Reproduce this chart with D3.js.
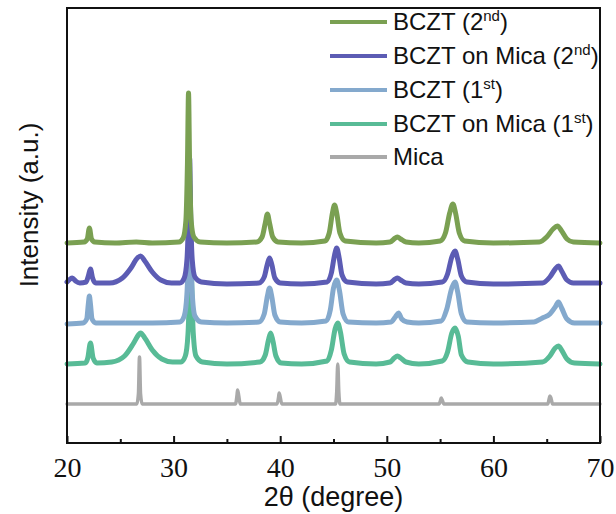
<!DOCTYPE html>
<html>
<head>
<meta charset="utf-8">
<script src="https://cdn.jsdelivr.net/npm/d3@7"></script>
<style>
  body { margin: 0; background: #fff; }
  svg { display: block; }
</style>
</head>
<body>
<script>
// Størrelse på SVG
const w = 616;
const h = 514;

// Plot-område (ramme)
const plotLeft = 67, plotRight = 600, plotTop = 8, plotBottom = 443;

// Serienavne og farver
const seriesNames = ["BCZT (2nd)", "BCZT on Mica (2nd)", "BCZT (1st)", "BCZT on Mica (1st)", "Mica"];
const seriesColors = ["#7aa052", "#5c5cb4", "#84a9cd", "#58bb96", "#a9a9a9"];

// Forskydning af hver kurve (a.u.)
const offsets = [200, 159, 119, 79, 39];

// Aflæste punkter [2theta, intensitet] for hver kurve
const bczt2 = [
  [20, 0], [21.6, 1], [21.9, 4], [22.1, 15], [22.3, 4], [22.6, 1], [24.5, 0], [26.5, 1], [28, 0],
  [30.5, 1], [30.9, 5], [31.15, 22], [31.3, 80], [31.4, 150], [31.5, 80], [31.65, 22], [31.9, 6], [32.5, 1],
  [35, 0], [37.8, 1], [38.3, 6], [38.6, 20], [38.8, 29], [39.0, 20], [39.3, 6], [39.8, 1],
  [42, 0], [44.2, 2], [44.6, 10], [44.9, 30], [45.1, 38], [45.3, 30], [45.6, 10], [46.1, 2],
  [49, 0], [50.3, 1], [50.8, 5], [51.0, 6], [51.3, 4], [51.8, 1], [53, 0],
  [55.0, 2], [55.5, 10], [55.9, 30], [56.2, 39], [56.45, 30], [56.8, 10], [57.3, 2],
  [60, 0], [64.3, 1], [65.0, 6], [65.6, 14], [66.0, 17], [66.4, 12], [66.9, 4], [67.5, 1], [70, 0]
];
const bcztMica2 = [
  [20, 2], [20.3, 5], [20.5, 6], [20.8, 3], [21.2, 1], [21.8, 2], [22.0, 8], [22.2, 15], [22.4, 6], [22.7, 1],
  [24.0, 1], [25.2, 6], [26.0, 16], [26.6, 26], [26.9, 28], [27.3, 23], [28.0, 12], [28.8, 4], [29.8, 1],
  [30.6, 1], [31.0, 6], [31.25, 24], [31.4, 70], [31.5, 127], [31.6, 70], [31.75, 24], [32.0, 7], [32.6, 2],
  [35, 0], [38.0, 1], [38.5, 7], [38.8, 20], [39.0, 26], [39.2, 20], [39.5, 6], [40.0, 1],
  [42, 0], [44.4, 2], [44.8, 11], [45.1, 29], [45.3, 36], [45.5, 28], [45.8, 9], [46.3, 2],
  [49, 0], [50.3, 1], [50.8, 5], [51.0, 6], [51.3, 4], [51.8, 1], [53, 0],
  [55.2, 2], [55.7, 10], [56.1, 27], [56.4, 33], [56.65, 25], [57.0, 8], [57.5, 2],
  [60, 0], [64.6, 1], [65.3, 7], [65.8, 15], [66.1, 18], [66.4, 13], [66.9, 4], [67.5, 1], [70, 1]
];
const bczt1 = [
  [20, 0], [21.5, 1], [21.85, 5], [22.0, 20], [22.1, 28], [22.2, 20], [22.35, 5], [22.7, 1], [25, 1], [28, 1],
  [30.6, 2], [31.0, 8], [31.25, 30], [31.4, 80], [31.5, 140], [31.6, 80], [31.75, 30], [32.0, 8], [32.6, 2],
  [35, 1], [38.0, 2], [38.5, 10], [38.8, 28], [39.0, 36], [39.2, 28], [39.5, 9], [40.0, 2],
  [42, 1], [44.3, 3], [44.7, 14], [45.0, 36], [45.3, 44], [45.55, 34], [45.9, 10], [46.4, 2],
  [49, 1], [50.4, 2], [50.8, 7], [51.1, 11], [51.4, 5], [51.9, 2], [53, 1],
  [55.1, 3], [55.6, 14], [56.1, 36], [56.4, 42], [56.65, 32], [57.0, 10], [57.5, 2],
  [60, 1], [63.8, 2], [64.6, 6], [65.3, 10], [65.8, 17], [66.1, 22], [66.4, 16], [66.9, 5], [67.6, 1], [70, 1]
];
const bcztMica1 = [
  [20, 0], [21.7, 1], [21.95, 6], [22.2, 21], [22.45, 6], [22.8, 1],
  [24.2, 2], [25.4, 8], [26.2, 20], [26.7, 29], [26.9, 31], [27.3, 26], [28.0, 14], [28.9, 5], [29.9, 2],
  [30.7, 2], [31.1, 8], [31.35, 30], [31.5, 80], [31.6, 130], [31.7, 80], [31.85, 30], [32.1, 8], [32.7, 2],
  [35, 0], [38.1, 2], [38.6, 9], [38.9, 24], [39.1, 31], [39.3, 24], [39.6, 8], [40.1, 1],
  [42, 0], [44.4, 3], [44.8, 14], [45.15, 35], [45.4, 41], [45.65, 32], [46.0, 10], [46.5, 2],
  [49, 0], [50.3, 2], [50.7, 6], [51.0, 8], [51.3, 6], [51.8, 2], [53, 0],
  [55.2, 3], [55.7, 12], [56.1, 31], [56.4, 36], [56.7, 28], [57.0, 9], [57.6, 2],
  [60, 0], [64.6, 2], [65.3, 8], [65.8, 16], [66.1, 18], [66.4, 14], [66.9, 5], [67.6, 1], [70, 0]
];
const mica = [
  [20, 0], [26.55, 0], [26.7, 10], [26.8, 47], [26.9, 10], [27.05, 0],
  [35.8, 0], [35.95, 9], [36.0, 14], [36.1, 9], [36.25, 0],
  [39.7, 0], [39.85, 7], [39.9, 11], [40.0, 7], [40.15, 0],
  [45.2, 0], [45.3, 12], [45.4, 40], [45.5, 12], [45.6, 0],
  [54.9, 0], [55.05, 4], [55.1, 6], [55.2, 4], [55.35, 0],
  [65.1, 0], [65.25, 6], [65.3, 8], [65.4, 6], [65.55, 0], [70, 0]
];
const seriesData = [bczt2, bcztMica2, bczt1, bcztMica1, mica];

// Akse-ticks
const majorTicks = [20, 30, 40, 50, 60, 70];
const minorTicks = [25, 35, 45, 55, 65];

const svg = d3.select("body").append("svg").attr("width", w).attr("height", h);

// Skaleringsfunktioner
const xScale = d3.scaleLinear().domain([20, 70]).range([plotLeft, plotRight]);
const yScale = d3.scaleLinear().domain([0, 435]).range([plotBottom, plotTop]);

const line = d3.line()
  .x(d => xScale(d[0]))
  .y(d => yScale(d[1]))
  .curve(d3.curveMonotoneX);

// Kurverne tegnes bagfra, så den øverste ligger øverst
const order = [4, 3, 2, 1, 0];
svg.append("g")
  .selectAll("path")
  .data(order)
  .enter()
  .append("path")
  .attr("d", i => line(seriesData[i].map(p => [p[0], p[1] + offsets[i]])))
  .attr("fill", "none")
  .attr("stroke", i => seriesColors[i])
  .attr("stroke-width", i => i === 4 ? 3.5 : 5)
  .attr("stroke-linejoin", "round")
  .attr("stroke-linecap", "round");

// Ramme
svg.append("rect")
  .attr("x", plotLeft).attr("y", plotTop)
  .attr("width", plotRight - plotLeft).attr("height", plotBottom - plotTop)
  .attr("fill", "none").attr("stroke", "#111").attr("stroke-width", 2);

// X-akse med ticks indad
const xAxis = d3.axisBottom(xScale).tickValues(majorTicks).tickSize(-7).tickPadding(14).tickFormat(d3.format("d"));
const gx = svg.append("g")
  .attr("transform", "translate(0," + plotBottom + ")")
  .call(xAxis);
gx.select(".domain").remove();
gx.selectAll("line").attr("stroke", "#111").attr("stroke-width", 2);
gx.selectAll("text")
  .attr("fill", "#111")
  .style("font-family", "'Liberation Serif', serif")
  .style("font-size", "28px");

const gxMinor = svg.append("g").attr("transform", "translate(0," + plotBottom + ")")
  .call(d3.axisBottom(xScale).tickValues(minorTicks).tickSize(-4).tickFormat(""));
gxMinor.select(".domain").remove();
gxMinor.selectAll("line").attr("stroke", "#111").attr("stroke-width", 2);

// Aksetitler
svg.append("text")
  .attr("x", (plotLeft + plotRight) / 2)
  .attr("y", 506)
  .attr("text-anchor", "middle")
  .attr("font-family", "'Liberation Sans', Arial, sans-serif")
  .attr("font-size", 27)
  .attr("fill", "#111")
  .text("2θ (degree)");

svg.append("text")
  .attr("transform", "translate(38,205) rotate(-90)")
  .attr("text-anchor", "middle")
  .attr("font-family", "'Liberation Sans', Arial, sans-serif")
  .attr("font-size", 26)
  .attr("fill", "#111")
  .text("Intensity (a.u.)");

// Forklaring
const legendY = [22, 56, 90, 124, 157];
const legend = svg.append("g");
seriesNames.forEach((name, i) => {
  const y = legendY[i];
  legend.append("line")
    .attr("x1", 330).attr("x2", 387)
    .attr("y1", y).attr("y2", y)
    .attr("stroke", seriesColors[i]).attr("stroke-width", 4);
  const t = legend.append("text")
    .attr("x", 393).attr("y", y + 8)
    .attr("font-family", "'Liberation Sans', Arial, sans-serif")
    .attr("font-size", 24)
    .attr("fill", "#111");
  const m = name.match(/^(.*\(\d)(nd|st)\)$/);
  if (m) {
    t.append("tspan").text(m[1]);
    t.append("tspan").attr("dy", -9).attr("font-size", 15).text(m[2]);
    t.append("tspan").attr("dy", 9).text(")");
  } else {
    t.text(name);
  }
});
</script>
</body>
</html>
